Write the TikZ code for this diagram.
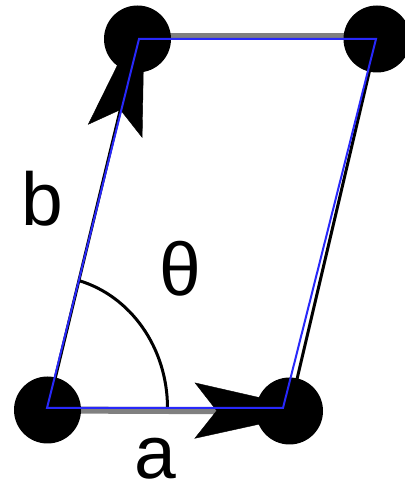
\documentclass[tikz,border=0pt]{standalone}
\usepackage{fontspec}
\setmainfont{Liberation Sans}
\usetikzlibrary{arrows.meta,calc}
\pgfdeclarelayer{back}
\pgfdeclarelayer{front}
\pgfsetlayers{back,main,front}
\definecolor{cellblue}{RGB}{40,40,250}
\tikzset{
    lattice point/.style={circle, fill=black, inner sep=0pt, minimum size=67pt},
    vector tip/.style={
        -{Stealth[length=125pt, width=56pt, inset=22pt, line width=0.4pt, color=black]},
        shorten >=-30pt
    },
    thick edge/.style={line width=7pt, gray},
    thin edge/.style={line width=3pt, black},
    cell/.style={line width=2pt, cellblue, line join=miter},
    vector label/.style={font=\fontsize{75pt}{75pt}\selectfont, anchor=base, inner sep=0pt}
}

\begin{document}
\begin{tikzpicture}[x=1pt,y=1pt]
\useasboundingbox (0,0) rectangle (404,486);
% lattice points
\node[lattice point] (A) at (47.5,76) {};
\node[lattice point] (B) at (289.5,75) {};
\node[lattice point] (C) at (137.5,447) {};
\node[lattice point] (D) at (377,447) {};
% vectors and far edges, under the points
\begin{pgfonlayer}{back}
\draw[thick edge, vector tip] (A.center) -- (B.center);
\draw[thin edge, vector tip] (A.center) -- (C.center);
\draw[thick edge] ([yshift=2pt]C.center) -- ([yshift=2pt]D.center);
\draw[thin edge] (B.center) -- (D.center);
\end{pgfonlayer}
% angle between a and b
\draw[line width=3pt] ($(A.center)+(120,2)$) arc[start angle=0, end angle=75, x radius=120pt, y radius=132pt];
% unit cell
\begin{pgfonlayer}{front}
\coordinate (p1) at (47,78);
\coordinate (p2) at (283,78);
\coordinate (p3) at (376,447);
\coordinate (p4) at (139,447);
\draw[cell] (p1) -- (p2) -- (p3) -- (p4) -- cycle;
\end{pgfonlayer}
\node[vector label] (la) at (155,7) {a};
\node[vector label] (lb) at (42,260) {b};
\node[vector label] (lt) at (180,190) {θ};
\end{tikzpicture}
\end{document}
